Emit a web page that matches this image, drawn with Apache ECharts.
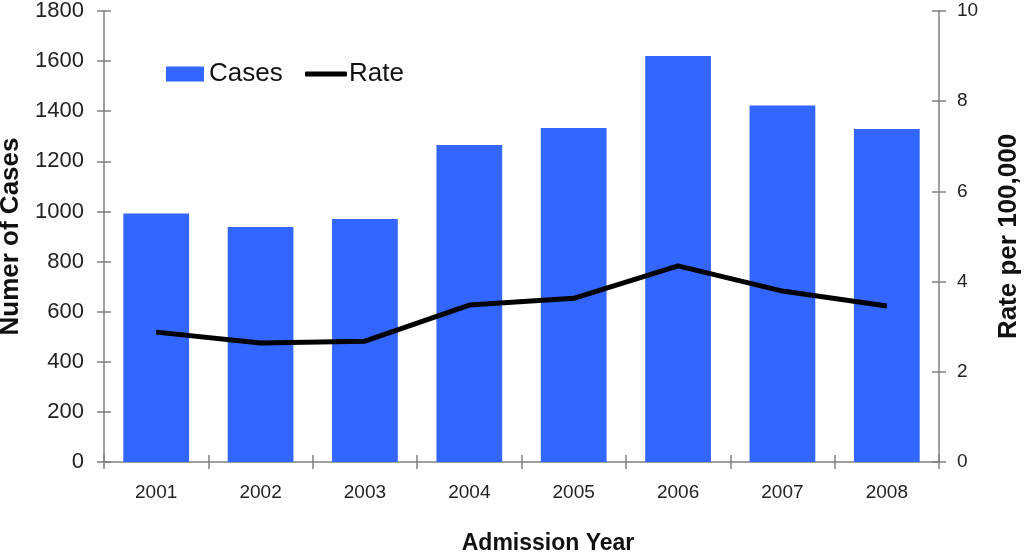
<!DOCTYPE html>
<html><head><meta charset="utf-8">
<script src="https://cdn.jsdelivr.net/npm/echarts@6/dist/echarts.min.js"></script>
<style>html,body{margin:0;padding:0;background:#fff}#c{width:1024px;height:553px}</style>
</head><body><div id="c"></div>
<script>
const years = ['2001','2002','2003','2004','2005','2006','2007','2008'];
const cases = [992, 938, 970, 1265, 1333, 1620, 1423, 1329];
const rate = [2.88, 2.64, 2.68, 3.48, 3.63, 4.35, 3.79, 3.46];
const leftTicks = [0, 1800, 200];
const rightTicks = [0, 10, 2];

const chart = echarts.init(document.getElementById('c'));
const font = 'Liberation Sans, Arial, sans-serif';
const axisColor = '#808080';
const axisLine = {show: true, lineStyle: {color: axisColor, width: 1.5}};
const tick = (inside) => ({show: true, inside: inside, length: 7, lineStyle: {color: axisColor, width: 1.5}});
const legendText = {fontFamily: font, fontSize: 26, color: '#111'};
chart.setOption({
  animation: false,
  grid: {left: 104, right: 85, top: 11, bottom: 91, containLabel: false, outerBoundsMode: 'none'},
  legend: [{
    left: 161, top: 56, itemGap: 12, itemWidth: 38, itemHeight: 15,
    textStyle: legendText,
    data: [{name: 'Cases', icon: 'rect'}]
  }, {
    left: 300, top: 56, itemWidth: 42, itemHeight: 5,
    textStyle: Object.assign({}, legendText, {padding: [0, 0, 0, -3]}),
    data: [{name: 'Rate', icon: 'roundRect'}]
  }],
  xAxis: [{
    type: 'category', data: years,
    name: 'Admission Year', nameLocation: 'middle', nameGap: 70,
    nameTextStyle: {fontFamily: font, fontSize: 23, fontWeight: 'bold', color: '#111', padding: [0, 0, 0, 53]},
    axisLine: axisLine,
    axisTick: tick(false),
    axisLabel: {fontFamily: font, fontSize: 19, color: '#222', margin: 21}
  }, {
    type: 'category', data: years, position: 'bottom',
    axisLine: {show: false}, axisTick: tick(true), axisLabel: {show: false}
  }],
  yAxis: [{
    type: 'value', min: leftTicks[0], max: leftTicks[1], interval: leftTicks[2],
    name: 'Numer of Cases', nameLocation: 'middle', nameGap: 76,
    nameTextStyle: {fontFamily: font, fontSize: 26, fontWeight: 'bold', color: '#111'},
    axisLine: axisLine,
    axisTick: tick(false),
    axisLabel: {fontFamily: font, fontSize: 22, color: '#222', margin: 20,
      formatter: v => String(v)},
    splitLine: {show: false}
  }, {
    type: 'value', min: rightTicks[0], max: rightTicks[1], interval: rightTicks[2],
    name: 'Rate per 100,000', nameLocation: 'middle', nameGap: 57, nameRotate: 90,
    nameTextStyle: {fontFamily: font, fontSize: 26, fontWeight: 'bold', color: '#111'},
    position: 'right',
    axisLine: axisLine,
    axisTick: tick(false),
    axisLabel: {fontFamily: font, fontSize: 19, color: '#222', margin: 18},
    splitLine: {show: false}
  }, {
    type: 'value', min: leftTicks[0], max: leftTicks[1], interval: leftTicks[2], position: 'left',
    axisLine: {show: false}, axisTick: tick(true), axisLabel: {show: false}, splitLine: {show: false}
  }, {
    type: 'value', min: rightTicks[0], max: rightTicks[1], interval: rightTicks[2], position: 'right',
    axisLine: {show: false}, axisTick: tick(true), axisLabel: {show: false}, splitLine: {show: false}
  }],
  series: [{
    name: 'Cases', type: 'bar', data: cases, barWidth: '63%',
    itemStyle: {color: '#3366FF'}
  }, {
    name: 'Rate', type: 'line', yAxisIndex: 1, data: rate,
    symbol: 'none', lineStyle: {color: '#000', width: 5}, itemStyle: {color: '#000'}
  }]
});
</script></body></html>
